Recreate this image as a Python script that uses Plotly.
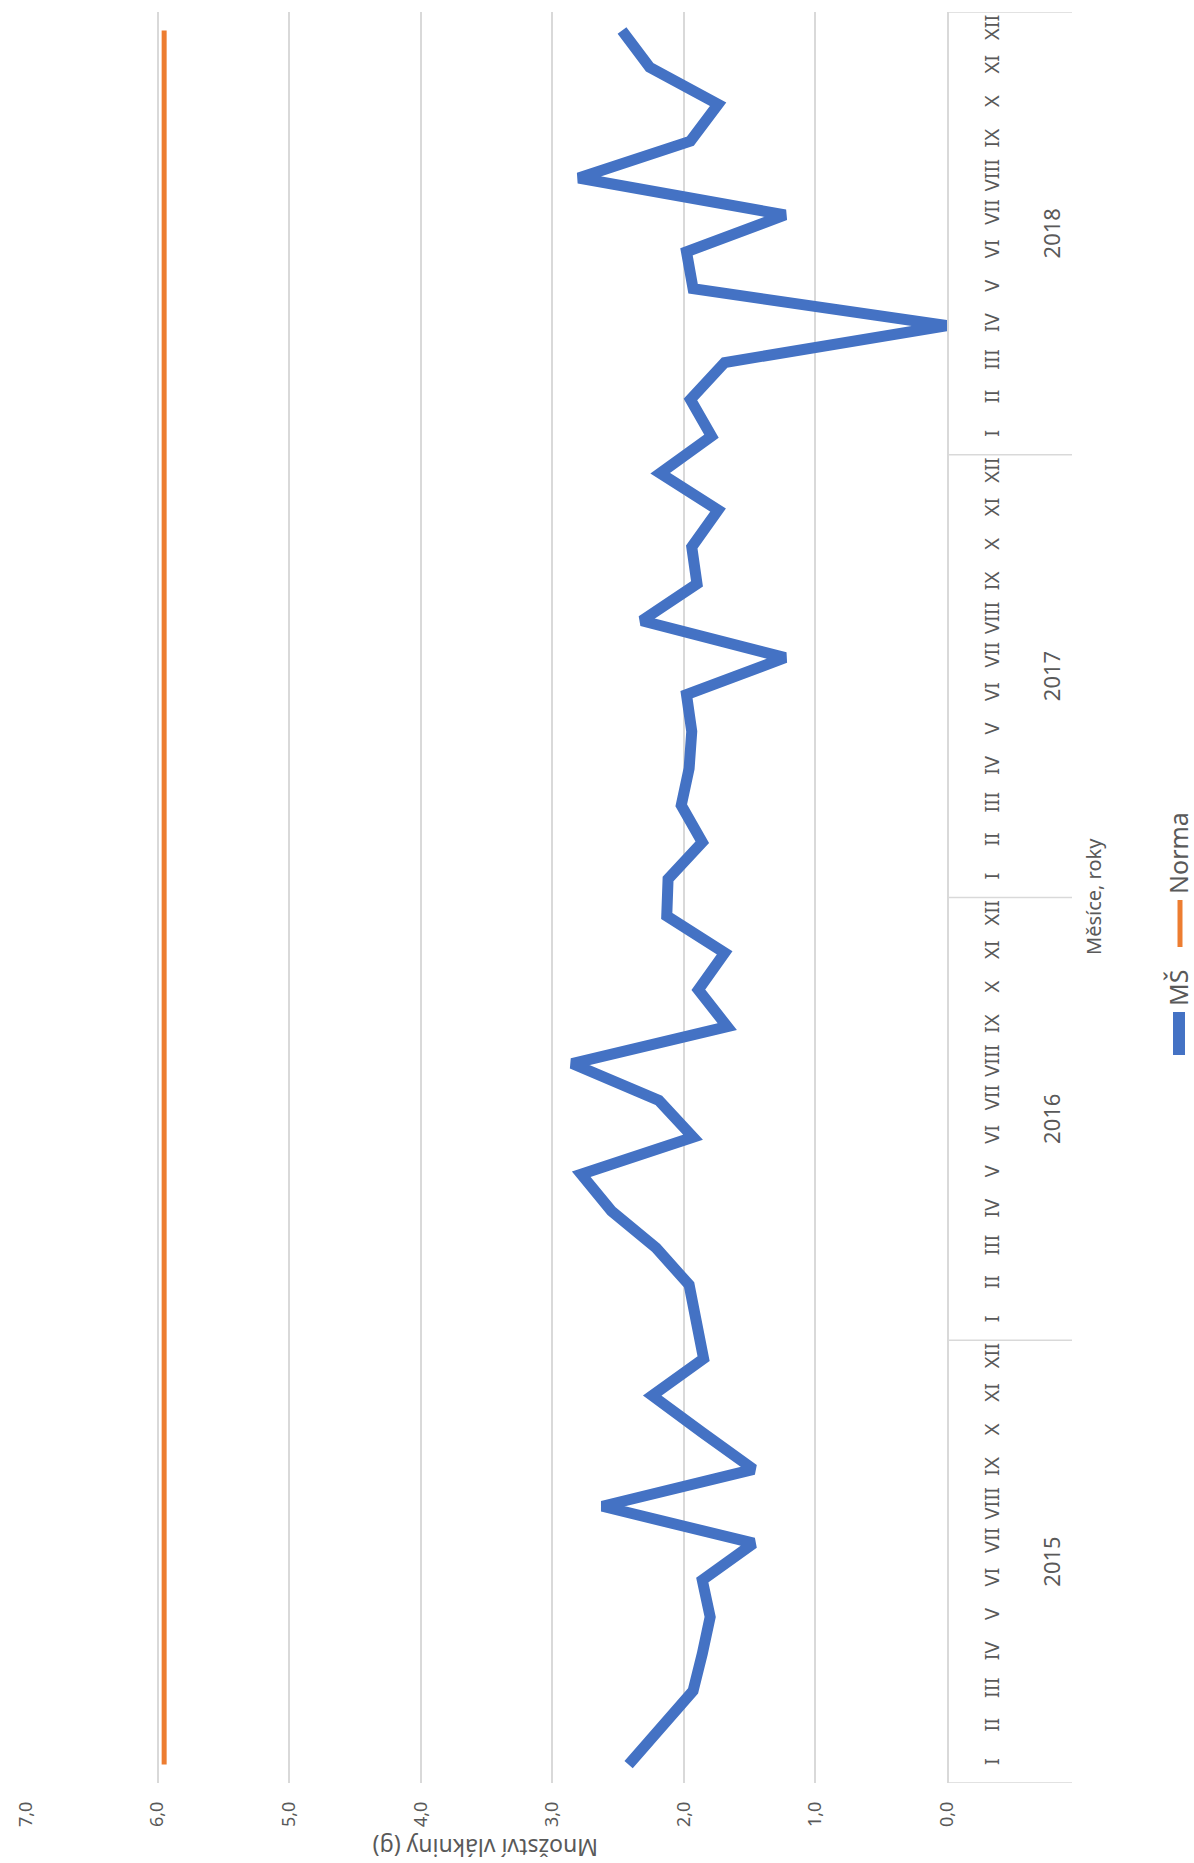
import plotly.graph_objects as go

months = ["I", "II", "III", "IV", "V", "VI", "VII", "VIII", "IX", "X", "XI", "XII"]
years = ["2015", "2016", "2017", "2018"]

ms_2015 = [2.42, 2.17, 1.93, 1.86, 1.80, 1.86, 1.47, 2.62, 1.47, 1.86, 2.24, 1.85]
ms_2016 = [1.90, 1.96, 2.21, 2.55, 2.78, 1.93, 2.19, 2.85, 1.67, 1.89, 1.69, 2.13]
ms_2017 = [2.12, 1.86, 2.02, 1.96, 1.94, 1.98, 1.23, 2.32, 1.90, 1.94, 1.74, 2.18]
ms_2018 = [1.79, 1.95, 1.69, 0.00, 1.93, 1.98, 1.23, 2.80, 1.95, 1.74, 2.26, 2.47]
norma_value = 5.95

value_ticks = [0, 1, 2, 3, 4, 5, 6, 7]

ms = ms_2015 + ms_2016 + ms_2017 + ms_2018
n = len(ms)
idx = list(range(n))
norma = [norma_value] * n
ticktext = months * len(years)

BLUE = "#4472C4"
ORANGE = "#ED7D31"
GRID = "#d9d9d9"
TXT = "#595959"
FONT = "Noto Sans"

W, H = 1194, 1863
ML, MR, MT, MB = 26, 247, 12, 80
PW = W - ML - MR
PH = H - MT - MB


def px_x(px):
    return (px - ML) / PW


def px_y(py):
    return (H - MB - py) / PH


fig = go.Figure()
fig.add_trace(go.Scatter(x=norma, y=idx, mode="lines", name="Norma",
                         line=dict(color=ORANGE, width=5), showlegend=False))
fig.add_trace(go.Scatter(x=ms, y=idx, mode="lines", name="MŠ",
                         line=dict(color=BLUE, width=11), showlegend=False))

shapes = []
# year separators on the category axis
n_m = len(months)
for k in range(len(years) + 1):
    yb = k * n_m - 0.5
    shapes.append(dict(type="line", xref="paper", yref="y", x0=1, x1=px_x(1072),
                       y0=yb, y1=yb, line=dict(color=GRID, width=1.5)))

annotations = []
for k, yr in enumerate(years):
    annotations.append(dict(x=px_x(1051), y=k * n_m + (n_m - 1) / 2, xref="paper", yref="y",
                            xanchor="center", yanchor="middle",
                            text=yr, showarrow=False, textangle=-90,
                            font=dict(family=FONT, size=22, color=TXT)))

annotations.append(dict(x=px_x(1094), y=px_y(897), xref="paper", yref="paper",
                        xanchor="center", yanchor="middle",
                        text="Měsíce, roky", showarrow=False, textangle=-90,
                        font=dict(family=FONT, size=20, color=TXT)))
annotations.append(dict(x=px_x(486), y=px_y(1848), xref="paper", yref="paper",
                        xanchor="center", yanchor="middle",
                        text="Množství vlákniny (g)", showarrow=False, textangle=180,
                        font=dict(family=FONT, size=23, color=TXT)))

# manual rotated legend
shapes.append(dict(type="line", xref="paper", yref="paper", x0=px_x(1179), x1=px_x(1179),
                   y0=px_y(1012), y1=px_y(1055), line=dict(color=BLUE, width=12)))
shapes.append(dict(type="line", xref="paper", yref="paper", x0=px_x(1180), x1=px_x(1180),
                   y0=px_y(900), y1=px_y(947), line=dict(color=ORANGE, width=5)))
annotations.append(dict(x=px_x(1178), y=px_y(988), xref="paper", yref="paper",
                        xanchor="center", yanchor="middle",
                        text="MŠ", showarrow=False, textangle=-90,
                        font=dict(family=FONT, size=25, color=TXT)))
annotations.append(dict(x=px_x(1178), y=px_y(853), xref="paper", yref="paper",
                        xanchor="center", yanchor="middle",
                        text="Norma", showarrow=False, textangle=-90,
                        font=dict(family=FONT, size=25, color=TXT)))

fig.update_layout(
    width=W, height=H,
    margin=dict(l=ML, r=MR, t=MT, b=MB),
    paper_bgcolor="white", plot_bgcolor="white",
    separators=", ",
    showlegend=False,
    shapes=shapes,
    annotations=annotations,
    xaxis=dict(range=[7, 0], tickvals=value_ticks, tickformat=".1f",
               showgrid=True, gridcolor=GRID, gridwidth=1.5, zeroline=False,
               showline=False, ticks="", tickangle=-90, ticklabelstandoff=14,
               tickfont=dict(family=FONT, size=18, color=TXT)),
    yaxis=dict(range=[-0.5, n - 0.5], tickvals=idx, ticktext=ticktext, side="right",
               showgrid=False, zeroline=False, showline=True, linecolor=GRID, linewidth=1.5,
               ticks="", tickangle=-90, ticklabelstandoff=26,
               tickfont=dict(family=FONT, size=20, color=TXT)),
)

fig.write_html("out.html")
